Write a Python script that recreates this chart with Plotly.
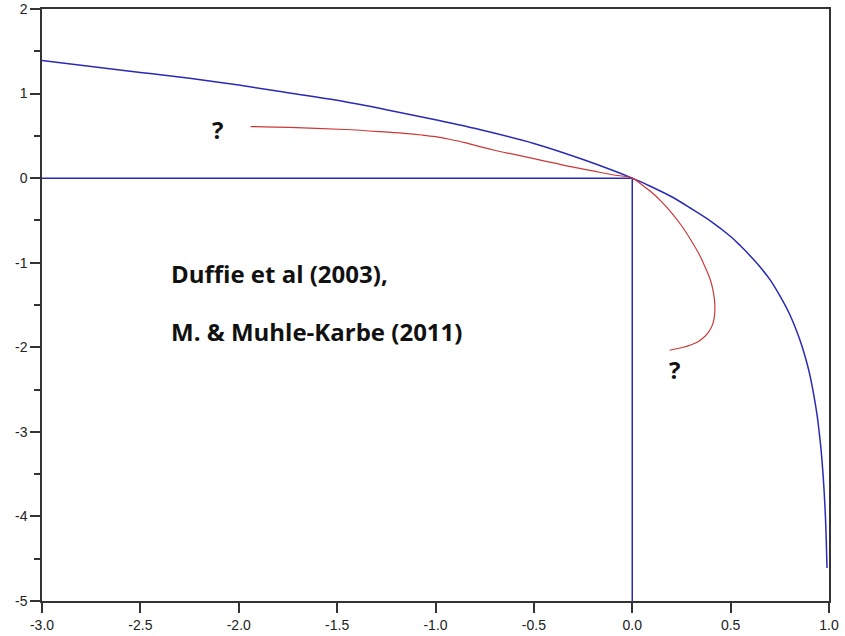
import plotly.graph_objects as go

# Blue boundary curve
blue_x = [-3.0, -2.75, -2.5, -2.25, -2.0, -1.75, -1.5, -1.25, -1.0, -0.75, -0.5, -0.25, 0.0,
          0.1, 0.2, 0.3, 0.4, 0.5, 0.55, 0.6, 0.65, 0.7, 0.75, 0.8, 0.85, 0.88, 0.9, 0.92,
          0.94, 0.95, 0.96, 0.97, 0.98, 0.985, 0.99]
blue_y = [1.39, 1.32, 1.25, 1.18, 1.10, 1.01, 0.92, 0.81, 0.69, 0.56, 0.41, 0.22, 0.0,
          -0.105, -0.22, -0.36, -0.51, -0.69, -0.80, -0.92, -1.05, -1.20, -1.39, -1.61, -1.90, -2.12, -2.30, -2.53,
          -2.81, -3.00, -3.22, -3.51, -3.91, -4.20, -4.61]

# Red curve
red_x = [-1.94, -1.74, -1.46, -1.28, -1.16, -1.07, -1.0, -0.93, -0.85, -0.77, -0.7, -0.6, -0.5, -0.4, -0.3,
         -0.2, -0.1, 0.0,
         0.05, 0.10, 0.15, 0.20, 0.25, 0.30, 0.34, 0.37, 0.395, 0.41, 0.418, 0.42, 0.416, 0.405,
         0.385, 0.36, 0.33, 0.30, 0.26, 0.22, 0.19]
red_y = [0.61, 0.60, 0.575, 0.55, 0.53, 0.51, 0.49, 0.46, 0.42, 0.37, 0.33, 0.28, 0.23, 0.18, 0.13,
         0.085, 0.04, 0.0,
         -0.08, -0.17, -0.28, -0.41, -0.56, -0.74, -0.90, -1.05, -1.19, -1.32, -1.44, -1.55, -1.66, -1.75,
         -1.83, -1.89, -1.94, -1.97, -2.00, -2.02, -2.035]

# Straight blue lines
hline_x = [-3.0, 0.0]
hline_y = [0.0, 0.0]
vline_x = [0.0, 0.0]
vline_y = [0.0, -5.0]

# Annotations
text_labels = ["Duffie et al (2003),", "M. & Muhle-Karbe (2011)", "?", "?"]
text_x = [-2.355, -2.355, -2.11, 0.215]
text_y = [-1.13, -1.815, 0.573, -2.262]
text_anchor = ["left", "left", "center", "center"]

x_ticks = [-3.0, -2.5, -2.0, -1.5, -1.0, -0.5, 0.0, 0.5, 1.0]
y_ticks = [-5, -4, -3, -2, -1, 0, 1, 2]

BLUE = "#2a2ab5"
RED = "#cc3838"

fig = go.Figure()
fig.add_trace(go.Scatter(x=hline_x, y=hline_y, mode="lines", line=dict(color=BLUE, width=1.5)))
fig.add_trace(go.Scatter(x=vline_x, y=vline_y, mode="lines", line=dict(color=BLUE, width=1.5)))
fig.add_trace(go.Scatter(x=blue_x, y=blue_y, mode="lines", line=dict(color=BLUE, width=1.5, shape="spline", smoothing=1.0)))
fig.add_trace(go.Scatter(x=red_x, y=red_y, mode="lines", line=dict(color=RED, width=1.2, shape="spline", smoothing=1.0)))

for t, x, y, a in zip(text_labels, text_x, text_y, text_anchor):
    fig.add_annotation(x=x, y=y, text="<b>%s</b>" % t, showarrow=False, xanchor=a, yanchor="middle",
                       font=dict(family="Open Sans", size=24, color="#111111"))

axis_common = dict(showgrid=False, zeroline=False, showline=True, linecolor="#333333", linewidth=1.5,
                   mirror=True, ticks="outside", ticklen=10, tickwidth=1.5, tickcolor="#333333",
                   tickfont=dict(family="Liberation Sans", size=14, color="#222222"), automargin=False,
                   ticklabeloverflow="allow")

fig.update_xaxes(range=[-3.0, 1.0], tickvals=x_ticks, ticktext=["%.1f" % v for v in x_ticks], **axis_common)
fig.update_yaxes(range=[-5, 2], tickvals=y_ticks, ticktext=[str(v) for v in y_ticks],
                 minor=dict(tickvals=[-4.5, -3.5, -2.5, -1.5, -0.5, 0.5, 1.5], ticks="outside", ticklen=6,
                            tickwidth=1.5, tickcolor="#333333"),
                 **axis_common)

fig.update_layout(width=845, height=636, showlegend=False, plot_bgcolor="white", paper_bgcolor="white",
                  margin=dict(l=42, r=16, t=9, b=35))

fig.write_html("out.html", config={"displayModeBar": False},
               post_script="document.body.style.margin='0';document.body.style.padding='0';document.body.style.overflow='hidden';")
